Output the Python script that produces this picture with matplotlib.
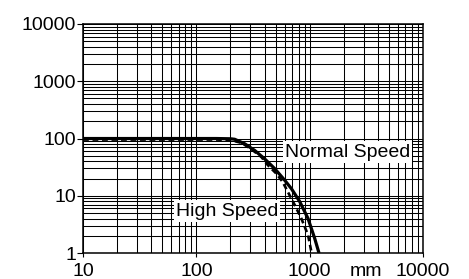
import matplotlib.pyplot as plt
from matplotlib.ticker import FixedLocator, LogLocator, NullFormatter, FixedFormatter

plt.rcParams['font.family'] = ['Liberation Sans', 'DejaVu Sans']

# curve data (stroke in mm vs. value)
normal_x = [10, 150, 200, 218, 267, 327, 401, 492, 603, 690, 817, 967, 1107, 1208]
normal_y = [100, 100, 99, 97, 81, 62, 44, 29.7, 18.6, 13.3, 7.9, 4.0, 1.8, 1.0]

high_x = [10, 150, 200, 250, 300, 375, 427, 509, 578, 640, 738, 845, 967, 1040]
high_y = [96, 96, 94, 84, 67, 47.5, 34.4, 24.3, 17.4, 11.8, 6.9, 4.0, 2.06, 1.0]

x_ticks = [10, 100, 1000, 10000]
x_labels = ['10', '100', '1000', '10000']
y_ticks = [1, 10, 100, 1000, 10000]
y_labels = ['1', '10', '100', '1000', '10000']

fig = plt.figure(figsize=(4.69, 2.79), dpi=100)
ax = fig.add_axes([0.177, 0.093, 0.725, 0.821])

ax.set_xscale('log')
ax.set_yscale('log')
ax.set_xlim(10, 10000)
ax.set_ylim(1, 10000)

ax.xaxis.set_major_locator(FixedLocator(x_ticks))
ax.xaxis.set_major_formatter(FixedFormatter(x_labels))
ax.yaxis.set_major_locator(FixedLocator(y_ticks))
ax.yaxis.set_major_formatter(FixedFormatter(y_labels))
for axis in (ax.xaxis, ax.yaxis):
    axis.set_minor_locator(LogLocator(base=10, subs=range(2, 10)))
    axis.set_minor_formatter(NullFormatter())

ax.grid(True, which='both', color='black', lw=0.75)
ax.set_axisbelow(True)
ax.tick_params(which='minor', length=0)
ax.tick_params(axis='y', which='major', length=4.3, width=0.8, pad=0.5, labelsize=14)
ax.tick_params(axis='x', which='major', length=3, width=0.8, pad=4, labelsize=14)
for s in ax.spines.values():
    s.set_linewidth(1.1)

ax.plot(normal_x, normal_y, color='black', lw=2.3, solid_capstyle='butt', zorder=4)
ax.plot(high_x, high_y, color='black', lw=1.9, ls=(0, (2.2, 1.4)), zorder=4)

box = dict(facecolor='white', edgecolor='none', pad=1.5)
ax.text(2163, 58, 'Normal Speed', fontsize=14, ha='center', va='center', bbox=box, zorder=3)
ax.text(186, 5.4, 'High Speed', fontsize=14, ha='center', va='center', bbox=box, zorder=3)

ax.annotate('mm', xy=(3110, 1), xycoords='data', xytext=(0, -10),
            textcoords='offset pixels', ha='center', va='top', fontsize=14,
            annotation_clip=False)

fig.savefig('out.png', dpi=100)
